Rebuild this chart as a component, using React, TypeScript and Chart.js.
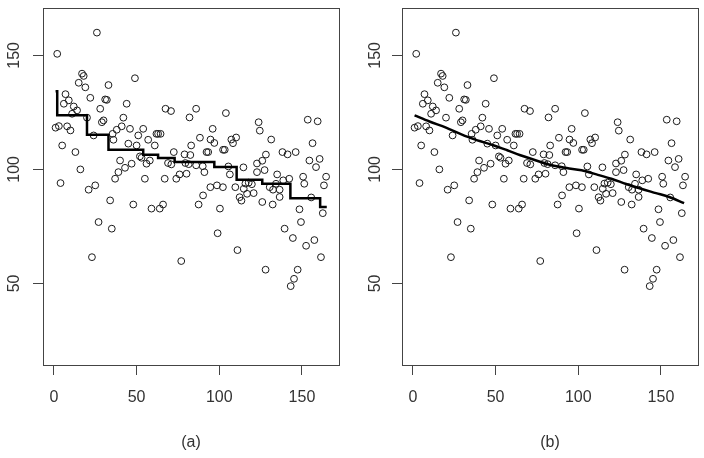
import React, { useEffect, useRef } from "react";
import { Chart, registerables } from "chart.js";

Chart.register(...registerables);

// Scatter observations (index, value)
const pointX = [
  1, 2, 3, 4, 5, 6, 7, 8, 9, 10, 11, 12, 13, 14, 15, 16, 17, 18, 19, 20,
  21, 22, 23, 24, 25, 26, 27, 28, 29, 30, 31, 32, 33, 34, 35, 35.5, 36, 37, 38, 39,
  40, 41, 42, 43, 44, 45, 46, 47, 48, 49, 50, 51, 52, 53, 54, 55, 56, 57, 58, 59,
  61, 62, 63, 64.5, 64, 66, 67, 67.5, 69, 70.8, 71, 72.5, 74, 76, 77, 79, 79.5, 80.2, 81.5, 82,
  82.5, 83, 86, 86, 87.5, 88.3, 90.2, 90, 91, 92.3, 93.3, 94.7, 94.6, 96, 97, 98.6, 99, 100.4, 102.2, 102.3,
  103.3, 104, 105.5, 106.4, 107.3, 108.3, 110.2, 109.7, 111, 112.3, 113.4, 114.6, 114.8, 115.8, 116.8, 117.8, 119.7, 120.8, 122.8, 122.8,
  123.8, 124.5, 126, 126, 127.4, 128.2, 128, 130.5, 131.4, 132.5, 132.3, 134.3, 135, 136.5, 136.5, 138.2, 138.7, 139.5, 141.3, 142.3,
  143.2, 144.5, 145.2, 146.2, 147.4, 148.5, 149.4, 150.7, 151.4, 152.5, 153.5, 154.5, 155.6, 156.4, 157.5, 158.5, 159.5, 160.7, 161.5, 162.6,
  163.3, 164.6,
];
const pointY = [
  118.3, 150.7, 119.0, 94.0, 110.5, 128.8, 133.0, 118.9, 130.3, 117.1, 124.4, 127.6, 107.6, 125.9, 138.0, 100.0, 142.0, 141.0, 136.0, 122.7,
  91.1, 131.4, 61.5, 114.9, 93.0, 160.0, 76.9, 126.6, 120.7, 121.5, 130.7, 130.5, 137.0, 86.4, 74.0, 115.6, 113.0, 95.9, 117.4, 98.8,
  103.9, 118.9, 122.7, 100.7, 128.8, 111.3, 117.8, 102.5, 84.6, 140.0, 110.5, 114.9, 105.7, 105.1, 117.8, 95.9, 102.5, 113.0, 103.9, 82.8,
  110.5, 115.6, 115.6, 115.6, 82.8, 84.6, 95.9, 126.6, 102.8, 125.6, 102.2, 107.6, 95.9, 97.8, 59.8, 106.6, 102.8, 98.1, 102.3, 122.8,
  106.3, 110.5, 126.6, 101.8, 84.6, 113.9, 88.6, 101.4, 98.8, 107.6, 107.6, 113.1, 92.2, 117.8, 111.6, 93.0, 72.0, 82.8, 92.2, 108.6,
  108.6, 124.7, 101.3, 97.8, 113.1, 111.5, 114.0, 92.2, 64.6, 87.8, 86.3, 100.9, 91.5, 93.8, 89.3, 94.2, 93.5, 89.6, 98.8, 102.6,
  120.7, 117.0, 103.8, 85.7, 99.7, 106.5, 56.0, 92.2, 113.1, 91.1, 84.6, 93.7, 97.8, 91.1, 87.9, 107.6, 95.2, 74.0, 106.6, 95.9,
  48.8, 69.9, 52.0, 107.6, 56.0, 82.5, 76.9, 96.8, 93.7, 66.5, 121.8, 103.9, 87.7, 111.5, 69.0, 101.0, 121.1, 104.6, 61.5, 80.8,
  93.0, 96.8,
];

// Panel (a): step fit
const stepX = [1, 2, 20, 33, 54, 63, 73, 97, 110.5, 126, 143, 161, 165];
const stepY = [134.3, 123.8, 115.2, 108.6, 106.4, 105, 103.2, 101, 95.5, 93.7, 87.4, 83.5, 83.5];

// Panel (b): smooth fit
const smoothX = [1, 10, 20, 29, 36, 49, 57, 65, 75, 84, 93, 102, 111, 120, 129, 138, 147, 155, 164];
const smoothY = [123.7, 121, 118.3, 115.5, 113.5, 110.5, 108.4, 106.2, 103.8, 101.8, 100.6, 99.6, 97.8, 95.9, 93.6, 91.5, 89.6, 87.9, 85.2];

const xTicks = [0, 50, 100, 150];
const yTicks = [50, 100, 150];
const panelLabels = ["(a)", "(b)"];

const FONT = "'Liberation Sans', Arial, Helvetica, sans-serif";
const TEXT = "#333333";
const LINE = "#444444";

const boxPlugin = {
  id: "plotBox",
  afterDraw(chart: any) {
    const { ctx, chartArea: a } = chart;
    ctx.save();
    ctx.strokeStyle = LINE;
    ctx.lineWidth = 1;
    ctx.strokeRect(
      Math.round(a.left) + 0.5,
      Math.round(a.top) + 0.5,
      Math.round(a.right - a.left),
      Math.round(a.bottom - a.top)
    );
    ctx.restore();
  },
};

function buildConfig(panel: number, yAxisWidth: number, yPad: number, rightPad: number) {
  const fitX = panel === 0 ? stepX : smoothX;
  const fitY = panel === 0 ? stepY : smoothY;
  return {
    type: "scatter" as const,
    data: {
      datasets: [
        {
          type: "line" as const,
          data: fitX.map((x, i) => ({ x, y: fitY[i] })),
          borderColor: "#000000",
          borderWidth: 2.5,
          pointRadius: 0,
          fill: false,
          showLine: true,
          stepped: panel === 0 ? ("before" as const) : false,
          cubicInterpolationMode: panel === 0 ? ("default" as const) : ("monotone" as const),
        },
        {
          type: "scatter" as const,
          data: pointX.map((x, i) => ({ x, y: pointY[i] })),
          pointStyle: "circle" as const,
          pointRadius: 3.4,
          borderWidth: 1,
          borderColor: "#1a1a1a",
          backgroundColor: "rgba(0,0,0,0)",
          showLine: false,
        },
      ],
    },
    options: {
      responsive: false,
      animation: false as const,
      events: [],
      layout: { padding: { left: 0, top: 8, right: rightPad, bottom: 0 } },
      plugins: { legend: { display: false }, tooltip: { enabled: false } },
      scales: {
        x: {
          type: "linear" as const,
          min: -6.6,
          max: 172.4,
          afterBuildTicks: (s: any) => {
            s.ticks = xTicks.map((v) => ({ value: v }));
          },
          afterFit: (s: any) => {
            s.height = 93;
            s.paddingLeft = 0;
            s.paddingRight = 0;
          },
          grid: { display: true, drawOnChartArea: false, drawTicks: true, tickLength: 10, color: LINE, lineWidth: 1 },
          border: { display: false },
          ticks: {
            autoSkip: false,
            maxRotation: 0,
            padding: 13,
            color: TEXT,
            font: { family: FONT, size: 16 },
            callback: (v: any) => String(v),
          },
          title: {
            display: true,
            text: panelLabels[panel],
            color: TEXT,
            font: { family: FONT, size: 16 },
            padding: { top: 0, bottom: 6 },
          },
        },
        y: {
          type: "linear" as const,
          min: 14.2,
          max: 170.8,
          afterBuildTicks: (s: any) => {
            s.ticks = yTicks.map((v) => ({ value: v }));
          },
          afterFit: (s: any) => {
            s.width = yAxisWidth;
            s.paddingTop = 0;
            s.paddingBottom = 0;
          },
          grid: { display: true, drawOnChartArea: false, drawTicks: true, tickLength: 10, color: LINE, lineWidth: 1 },
          border: { display: false },
          ticks: {
            autoSkip: false,
            minRotation: 90,
            maxRotation: 90,
            crossAlign: "center" as const,
            padding: yPad,
            color: TEXT,
            font: { family: FONT, size: 16 },
            callback: (v: any) => String(v),
          },
        },
      },
    },
    plugins: [boxPlugin],
  };
}

export default function App() {
  const refA = useRef<HTMLCanvasElement | null>(null);
  const refB = useRef<HTMLCanvasElement | null>(null);

  useEffect(() => {
    const charts: Chart[] = [];
    if (refA.current) charts.push(new Chart(refA.current, buildConfig(0, 43, 5, 13) as any));
    if (refB.current) charts.push(new Chart(refB.current, buildConfig(1, 50, 3, 6) as any));
    return () => charts.forEach((c) => c.destroy());
  }, []);

  return (
    <div style={{ position: "absolute", left: 0, top: 0, width: 704, height: 458, background: "#ffffff" }}>
      <canvas ref={refA} width={352} height={458} style={{ position: "absolute", left: 0, top: 0 }} />
      <canvas ref={refB} width={352} height={458} style={{ position: "absolute", left: 352, top: 0 }} />
    </div>
  );
}
